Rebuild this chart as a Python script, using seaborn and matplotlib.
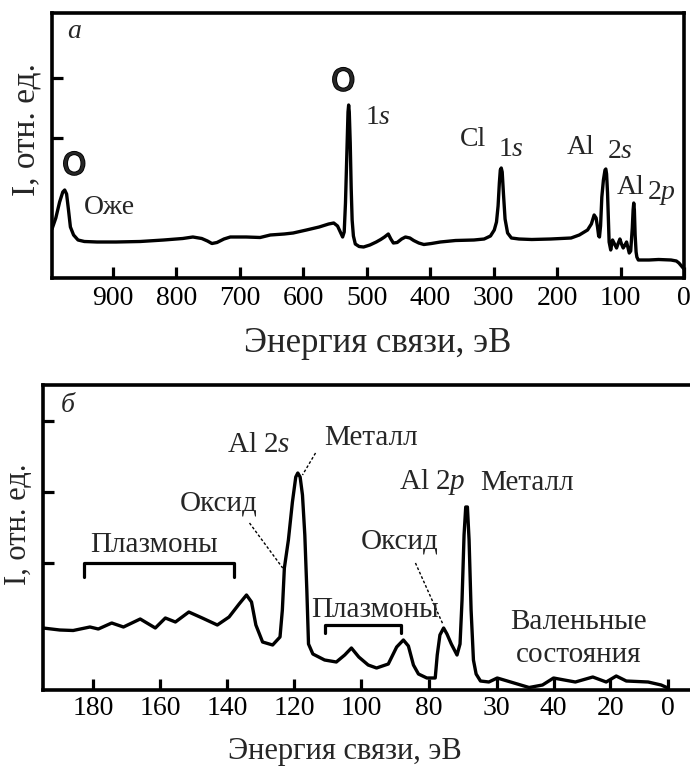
import matplotlib
matplotlib.use("Agg")
import matplotlib.pyplot as plt
import matplotlib.patheffects as pe
import pandas as pd
import seaborn as sns

# --- панель а: обзорный спектр (энергия связи, эВ / интенсивность, отн. ед.)
survey_energy = [996, 990, 984, 979, 976, 973, 970, 967, 962, 955,
                 945, 925, 895, 857, 820, 790, 774, 760, 751, 744,
                 736, 725, 715, 690, 668, 652, 630, 616, 595, 575,
                 560, 552, 546, 541, 538, 535.5, 533.5, 532, 530.5, 529.5,
                 528.5, 527.5, 526, 524.5, 523, 521, 518, 512, 505, 495,
                 485, 478, 472, 466, 462, 458, 452, 445, 439, 432,
                 426, 418, 410, 398, 384, 360, 331, 315, 305, 299,
                 295.5, 293, 291, 289.5, 288, 286.5, 284.5, 282, 278, 272,
                 260, 240, 210, 178, 165, 152, 146, 141.6, 138.5, 136.3,
                 134.5, 133.2, 131.5, 129.5, 127, 124.5, 123.2, 122, 120.5, 119.2,
                 118, 115.5, 112.6, 109.5, 106.3, 103.5, 101, 98.5, 95.8, 93,
                 90.5, 88.3, 86.3, 84, 81.5, 80.2, 79.2, 78.2, 77, 75.5,
                 74.3, 72, 68, 55, 40, 20.5, 12, 8, 4, 0]
survey_counts = [4.9, 6.0, 7.6, 8.6, 8.8, 8.4, 6.8, 5.1, 4.3, 3.8,
                 3.65, 3.6, 3.6, 3.65, 3.8, 3.95, 4.1, 3.95, 3.7, 3.45,
                 3.55, 3.9, 4.1, 4.1, 4.05, 4.3, 4.4, 4.5, 4.8, 5.1,
                 5.4, 5.5, 5.2, 4.5, 4.1, 4.6, 7.5, 11.0, 14.8, 16.6,
                 17.3, 16.6, 13.5, 9.0, 5.8, 4.2, 3.4, 3.15, 3.1, 3.3,
                 3.6, 3.85, 4.1, 4.4, 3.9, 3.5, 3.55, 3.9, 4.1, 4.0,
                 3.75, 3.5, 3.35, 3.45, 3.6, 3.75, 3.8, 3.9, 4.2, 4.8,
                 5.6, 7.2, 9.5, 10.8, 11.0, 10.6, 8.4, 5.9, 4.5, 4.0,
                 3.9, 3.85, 3.9, 4.0, 4.3, 4.8, 5.4, 6.3, 6.0, 5.1,
                 4.2, 4.1, 5.2, 8.1, 9.8, 10.8, 10.9, 10.4, 8.5, 6.0,
                 3.6, 2.8, 3.8, 3.4, 3.0, 3.5, 3.9, 3.4, 3.0, 3.3,
                 3.6, 3.0, 2.5, 2.7, 5.0, 6.8, 7.5, 6.8, 4.3, 2.6,
                 2.1, 1.8, 1.8, 1.8, 1.85, 1.8, 1.7, 1.5, 1.2, 0.9]

# --- панель б: область Al 2s / Al 2p (позиция по оси, подписи ниже)
detail_energy = [195, 190, 186, 181, 178.5, 174.5, 171, 166, 161.5, 158.5,
                 155.5, 151.5, 147.5, 143, 139.5, 136.5, 134.3, 132.8, 131.5, 129.5,
                 126.5, 124.3, 123.6, 123.0, 121.8, 120.6, 119.6, 119.0, 118.3, 117.6,
                 116.9, 116.3, 115.8, 114.5, 111, 107.5, 105, 103, 100.8, 98,
                 95.5, 92, 89.5, 87.5, 86, 84.5, 83, 80.5, 78, 77.4,
                 76.6, 75.5, 74.5, 73.2, 71.5, 70.6, 70.0, 69.4, 68.9, 68.4,
                 67.9, 67.3, 66.6, 65.8, 64.5, 62, 59.5, 55.5, 50, 46,
                 42.7, 39.5, 36.2, 31, 27, 24, 21, 14.5, 10.6, 8.6]
detail_counts = [6.2, 6.0, 5.95, 6.3, 6.1, 6.7, 6.3, 7.1, 6.2, 7.2,
                 6.8, 7.8, 7.2, 6.5, 7.3, 8.6, 9.5, 8.8, 6.5, 4.8,
                 4.5, 5.3, 8.0, 12.2, 15.0, 18.8, 21.3, 21.7, 21.3, 19.5,
                 15.5, 10.0, 4.6, 3.6, 3.0, 2.8, 3.5, 4.2, 3.3, 2.5,
                 2.2, 2.6, 4.3, 5.0, 4.4, 2.5, 1.6, 1.2, 1.2, 3.5,
                 5.5, 6.2, 5.6, 4.6, 3.5, 4.6, 9.0, 15.5, 18.3, 18.3,
                 15.0, 8.0, 3.0, 1.6, 0.9, 0.8, 1.2, 0.8, 0.25, 0.5,
                 1.2, 1.0, 0.8, 1.3, 0.8, 1.4, 0.9, 0.8, 0.5, 0.2]

survey_ticks = [900, 800, 700, 600, 500, 400, 300, 200, 100, 0]
detail_tick_pos = [180, 160, 140, 120, 100, 80, 59.7, 42.7, 25.8, 8.5]
detail_tick_labels = ["180", "160", "140", "120", "100", "80", "30", "40", "20", "0"]

sns.set_style("ticks")
plt.rcParams['font.family'] = ['Liberation Serif', 'DejaVu Serif']
plt.rcParams['mathtext.fontset'] = 'custom'
plt.rcParams['mathtext.rm'] = 'Liberation Serif'
plt.rcParams['mathtext.it'] = 'Liberation Serif:italic'

df_a = pd.DataFrame({"E": survey_energy, "I": survey_counts})
df_b = pd.DataFrame({"E": detail_energy, "I": detail_counts})

fig = plt.figure(figsize=(6.9, 7.67), dpi=100)
ax1 = fig.add_axes([52 / 690, 1 - 278 / 767, 632 / 690, 265 / 767])
ax2 = fig.add_axes([43 / 690, 1 - 690 / 767, 647 / 690, 305 / 767])

sns.lineplot(data=df_a, x="E", y="I", ax=ax1, color="black", lw=2.4,
             sort=False, estimator=None)
sns.lineplot(data=df_b, x="E", y="I", ax=ax2, color="black", lw=2.4,
             sort=False, estimator=None)

fs_tick = 20
fs_txt = 20

for ax in (ax1, ax2):
    ax.set_xlabel("")
    ax.set_ylabel("")
    for s in ax.spines.values():
        s.set_linewidth(2.6)
        s.set_color("black")
    ax.tick_params(direction="in", length=8, width=2.3, labelsize=fs_tick, colors="black")

# панель а
ax1.set_xlim(996, 0)
ax1.set_ylim(0, 26.5)
ax1.set_xticks(survey_ticks)
ax1.set_xticklabels([str(t) for t in survey_ticks])
ax1.set_yticks([14, 20])
ax1.set_yticklabels([])
ax1.tick_params(axis="x", pad=6)
ax1.text(0.035, 0.93, "a", transform=ax1.transAxes, fontsize=fs_txt, style="italic",
         ha="center", va="center")
ring = [pe.withStroke(linewidth=1.3, foreground="black")]
ax1.text(961, 11.2, "O", fontsize=22, ha="center", va="center",
         family="DejaVu Sans", path_effects=ring)
ax1.text(537, 19.6, "O", fontsize=22, ha="center", va="center",
         family="DejaVu Sans", path_effects=ring)
ax1.text(905, 7.0, "Оже", fontsize=fs_txt, ha="center", va="center")
ax1.text(483, 16.0, "1$s$", fontsize=fs_txt, ha="center", va="center")
ax1.text(332, 13.8, "Cl", fontsize=fs_txt, ha="center", va="center")
ax1.text(272, 12.8, "1$s$", fontsize=fs_txt, ha="center", va="center")
ax1.text(163, 13.1, "Al", fontsize=fs_txt, ha="center", va="center")
ax1.text(101, 12.6, "2$s$", fontsize=fs_txt, ha="center", va="center")
ax1.text(84, 9.0, "Al", fontsize=fs_txt, ha="center", va="center")
ax1.text(35, 8.5, "2$p$", fontsize=fs_txt, ha="center", va="center")

# панель б
ax2.spines["right"].set_visible(False)
ax2.set_xlim(195, 2)
ax2.set_ylim(0, 30.5)
ax2.set_xticks(detail_tick_pos)
ax2.set_xticklabels(detail_tick_labels)
ax2.set_yticks([12.7, 19.8, 26.9])
ax2.set_yticklabels([])
ax2.tick_params(axis="x", pad=4)
ax2.text(0.039, 0.934, "б", transform=ax2.transAxes, fontsize=fs_txt, style="italic",
         ha="center", va="center")
ax2.text(130.7, 24.5, "Al 2$s$", fontsize=21, ha="center", va="center")
ax2.text(97.3, 25.2, "Металл", fontsize=21, ha="center", va="center")
ax2.text(142.6, 18.7, "Оксид", fontsize=21, ha="center", va="center")
ax2.text(162, 14.5, "Плазмоны", fontsize=21, ha="center", va="center")
ax2.text(78.8, 20.8, "Al 2$p$", fontsize=21, ha="center", va="center")
ax2.text(50.5, 20.7, "Металл", fontsize=21, ha="center", va="center")
ax2.text(88.6, 14.8, "Оксид", fontsize=21, ha="center", va="center")
ax2.text(96.1, 8.0, "Плазмоны", fontsize=21, ha="center", va="center")
ax2.text(35.3, 6.8, "Валеньные", fontsize=21, ha="center", va="center")
ax2.text(35.3, 3.5, "состояния", fontsize=21, ha="center", va="center")

# скобки «Плазмоны»
ax2.plot([182.8, 182.8, 138.1, 138.1], [11.3, 12.7, 12.7, 11.3], color="black", lw=2.3)
ax2.plot([111, 111, 88.3, 88.3], [5.7, 6.5, 6.5, 5.7], color="black", lw=2.3)
# пунктирные выноски
ax2.plot([113.7, 117.6], [23.7, 21.5], color="black", lw=1.0, ls=(0, (2, 1.5)))
ax2.plot([133.4, 123.5], [16.7, 12.2], color="black", lw=1.0, ls=(0, (2, 1.5)))
ax2.plot([83.9, 75.6], [12.7, 6.5], color="black", lw=1.0, ls=(0, (2, 1.5)))

# подписи осей
fig.text(378 / 690, 1 - 343 / 767, "Энергия связи, эВ", fontsize=25, ha="center", va="center")
fig.text(345 / 690, 1 - 752 / 767, "Энергия связи, эВ", fontsize=22, ha="center", va="center")
fig.text(26 / 690, 1 - 129 / 767, "I, отн. ед.", fontsize=24, rotation=90,
         ha="center", va="center")
fig.text(19 / 690, 1 - 524 / 767, "I, отн. ед.", fontsize=22, rotation=90,
         ha="center", va="center")

fig.savefig("out.png", dpi=100, facecolor="white")
